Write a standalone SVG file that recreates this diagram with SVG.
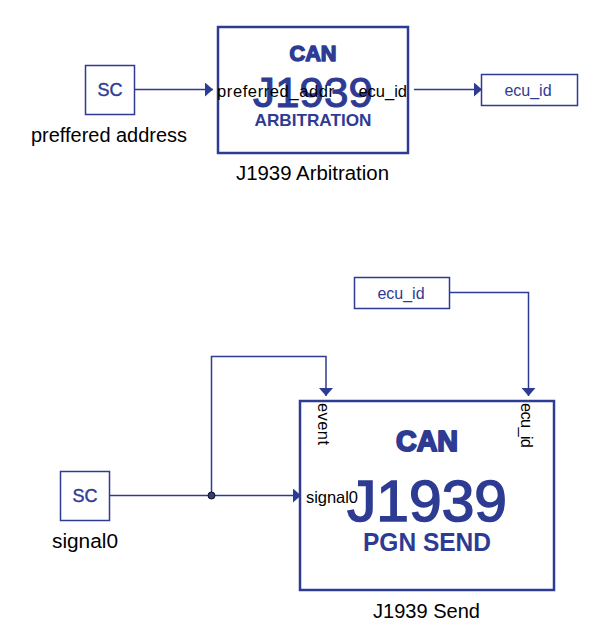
<svg xmlns="http://www.w3.org/2000/svg" width="594" height="633" viewBox="0 0 594 633">
<style>
text{font-family:"Liberation Sans",Arial,sans-serif}
.box{fill:#fff;stroke:#2e3b93;stroke-width:1.5}
.block{fill:#fff;stroke:#2e3b93;stroke-width:2.5}
.wire{fill:none;stroke:#2e3b93;stroke-width:1.5}
.logo{fill:#2e3b93;font-weight:bold;text-anchor:middle}
.num{fill:#2e3b93;text-anchor:middle;stroke:#2e3b93}
.can{stroke:#2e3b93;stroke-linejoin:round}
.sc{fill:#2e3b93;font-size:18px;text-anchor:middle;stroke:#2e3b93;stroke-width:.4}
.tag{fill:#2e3b93;font-size:16px;text-anchor:middle}
.lab{fill:#000;font-size:20px;text-anchor:middle}
.port{fill:#000;font-size:16.500px}
</style>
<defs><marker id="arr" markerUnits="userSpaceOnUse" markerWidth="9" markerHeight="14" refX="8" refY="7" orient="auto"><path d="M0 0L8 7L0 14Z" fill="#2e3b93"/></marker></defs>
<g id="connectors">
<path class="wire" d="M135 89.500H213" marker-end="url(#arr)"/>
<path class="wire" d="M414 89.500H482" marker-end="url(#arr)"/>
<path class="wire" d="M110 495.500H301" marker-end="url(#arr)"/>
<path class="wire" d="M211.500 495.500V356.500H326V396" marker-end="url(#arr)"/>
<path class="wire" d="M450 292.500H528.500V396" marker-end="url(#arr)"/>
<circle cx="211.500" cy="495.500" r="3.500" fill="#2e3b93" stroke="#111" stroke-width="1"/>
</g>
<g id="sc1"><rect class="box" x="85.500" y="65.500" width="49" height="49"/><text class="sc" x="110" y="96">SC</text><text class="lab" x="109" y="142" textLength="156" lengthAdjust="spacingAndGlyphs">preffered address</text></g>
<g id="arbitration"><rect class="block" x="218" y="27" width="190" height="126"/>
<text class="logo can" x="313" y="61" font-size="22" stroke-width="1.500" textLength="47" lengthAdjust="spacingAndGlyphs">CAN</text>
<text class="num" x="313" y="107" font-size="42" stroke-width="1" textLength="120" lengthAdjust="spacingAndGlyphs">J1939</text>
<text class="logo" x="313" y="126" font-size="17" textLength="117" lengthAdjust="spacingAndGlyphs">ARBITRATION</text>
<text class="port" x="217" y="97" textLength="117" lengthAdjust="spacing">preferred_addr</text>
<text class="port" x="407" y="97" text-anchor="end">ecu_id</text>
<text class="lab" x="312.500" y="180" textLength="153" lengthAdjust="spacingAndGlyphs">J1939 Arbitration</text></g>
<g id="ecu_out"><rect class="box" x="481.500" y="74.500" width="96" height="31"/><text class="tag" x="528" y="96">ecu_id</text></g>
<g id="ecu_in"><rect class="box" x="354.500" y="277.500" width="95" height="31"/><text class="tag" x="401" y="299">ecu_id</text></g>
<g id="sc2"><rect class="box" x="60.500" y="471.500" width="49" height="49"/><text class="sc" x="85" y="502">SC</text><text class="lab" x="85" y="548" textLength="66" lengthAdjust="spacingAndGlyphs">signal0</text></g>
<g id="send"><rect class="block" x="300" y="401" width="254" height="189"/>
<text class="logo can" x="427" y="451" font-size="29" stroke-width="2" textLength="62" lengthAdjust="spacingAndGlyphs">CAN</text>
<text class="num" x="427" y="521" font-size="57" stroke-width="1.500" textLength="160" lengthAdjust="spacingAndGlyphs">J1939</text>
<text class="logo" x="427" y="551" font-size="25" textLength="128" lengthAdjust="spacingAndGlyphs">PGN SEND</text>
<text class="port" x="306" y="503" textLength="52" lengthAdjust="spacing">signal0</text>
<text class="port" transform="translate(318 403) rotate(90)" textLength="42">event</text>
<text class="port" transform="translate(521 403) rotate(90)" textLength="45">ecu_id</text>
<text class="lab" x="426.500" y="618" textLength="107" lengthAdjust="spacingAndGlyphs">J1939 Send</text></g>
</svg>
